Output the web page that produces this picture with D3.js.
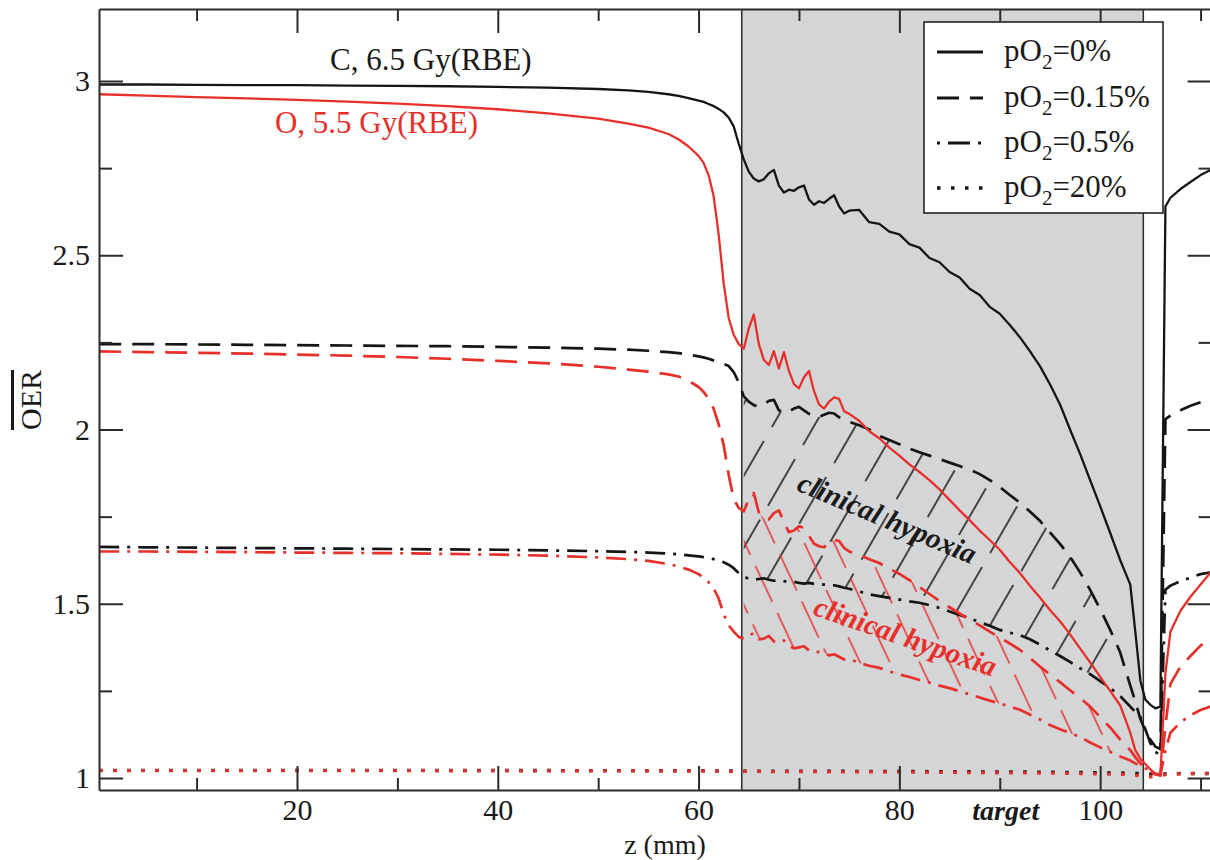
<!DOCTYPE html>
<html><head><meta charset="utf-8">
<script src="https://cdn.jsdelivr.net/npm/d3@7"></script>
<style>
html,body{margin:0;padding:0;background:#fff;}
svg{display:block;font-family:"Liberation Serif","Times New Roman",serif;}
</style></head><body>
<svg id="chart" width="1210" height="860"></svg>
<script>
// ---------------- DATA ----------------
const zGrid = [0.3, 5, 10, 15, 20, 25, 30, 35, 40, 45, 50, 53, 55, 57, 58, 59, 60,
  60.5, 61, 61.5, 62, 62.5, 63, 63.5, 64, 64.5, 65, 65.5, 66, 66.5, 67, 67.5, 68, 68.5, 69, 69.5, 70, 70.5, 71, 71.5, 72, 72.5, 73, 73.5, 74, 74.5, 75,
  76, 77, 78, 79, 80, 81, 82, 83, 84, 85, 86, 87, 88, 89, 90, 91, 92, 93, 94, 95, 96, 97, 98, 99, 100, 101, 102, 103,
  103.5, 104, 104.5, 105, 105.5, 106, 106.5, 107, 108, 109, 110, 111];

// Carbon, 6.5 Gy(RBE)
const oerC0 = [2.990, 2.990, 2.989, 2.988, 2.988, 2.987, 2.986, 2.985, 2.983, 2.981, 2.977, 2.973, 2.969, 2.962, 2.957, 2.951, 2.944,
  2.940, 2.934, 2.928, 2.920, 2.910, 2.895, 2.870, 2.820, 2.775, 2.740, 2.720, 2.712, 2.718, 2.735, 2.745, 2.700, 2.680, 2.688, 2.685, 2.695, 2.700, 2.660, 2.645, 2.655, 2.650, 2.662, 2.672, 2.640, 2.620, 2.628,
  2.630, 2.595, 2.590, 2.568, 2.560, 2.532, 2.522, 2.492, 2.480, 2.452, 2.436, 2.404, 2.386, 2.352, 2.332, 2.300, 2.265, 2.225, 2.182, 2.130, 2.072, 2.000, 1.930, 1.855, 1.780, 1.703, 1.625, 1.555,
  1.420, 1.280, 1.225, 1.210, 1.200, 1.205, 2.640, 2.665, 2.690, 2.710, 2.730, 2.745];
const oerC15 = [2.245, 2.245, 2.244, 2.243, 2.242, 2.241, 2.240, 2.239, 2.237, 2.235, 2.232, 2.229, 2.226, 2.222, 2.219, 2.215, 2.210,
  2.207, 2.203, 2.198, 2.192, 2.188, 2.182, 2.165, 2.135, 2.095, 2.080, 2.070, 2.065, 2.072, 2.082, 2.085, 2.055, 2.048, 2.052, 2.060, 2.065, 2.055, 2.045, 2.040, 2.036, 2.042, 2.048, 2.046, 2.035, 2.028, 2.022,
  2.012, 2.000, 1.982, 1.970, 1.958, 1.945, 1.935, 1.925, 1.915, 1.905, 1.895, 1.885, 1.872, 1.855, 1.835, 1.812, 1.790, 1.765, 1.738, 1.705, 1.672, 1.635, 1.590, 1.540, 1.485, 1.425, 1.360, 1.265,
  1.220, 1.170, 1.135, 1.110, 1.090, 1.083, 2.030, 2.040, 2.055, 2.068, 2.078, 2.085];
const oerC5 = [1.663, 1.662, 1.661, 1.660, 1.659, 1.658, 1.657, 1.656, 1.655, 1.653, 1.651, 1.649, 1.647, 1.644, 1.642, 1.639, 1.636,
  1.634, 1.631, 1.628, 1.624, 1.619, 1.612, 1.602, 1.588, 1.578, 1.572, 1.569, 1.571, 1.573, 1.569, 1.566, 1.568, 1.565, 1.562, 1.563, 1.560, 1.558, 1.560, 1.557, 1.556, 1.555, 1.554, 1.553, 1.550, 1.546, 1.543,
  1.535, 1.527, 1.522, 1.517, 1.512, 1.507, 1.503, 1.496, 1.488, 1.478, 1.468, 1.459, 1.447, 1.437, 1.425, 1.417, 1.410, 1.398, 1.383, 1.366, 1.350, 1.333, 1.315, 1.298, 1.278, 1.258, 1.235, 1.205,
  1.190, 1.175, 1.140, 1.100, 1.075, 1.065, 1.540, 1.552, 1.565, 1.575, 1.585, 1.590];

// Oxygen, 5.5 Gy(RBE)
const oerO0 = [2.962, 2.958, 2.954, 2.950, 2.946, 2.941, 2.935, 2.928, 2.919, 2.907, 2.892, 2.878, 2.866, 2.848, 2.833, 2.812, 2.785,
  2.765, 2.730, 2.670, 2.560, 2.420, 2.320, 2.272, 2.245, 2.232, 2.290, 2.330, 2.245, 2.200, 2.185, 2.225, 2.175, 2.222, 2.168, 2.130, 2.118, 2.150, 2.168, 2.110, 2.072, 2.060, 2.080, 2.092, 2.088, 2.052, 2.045,
  2.025, 1.995, 1.975, 1.948, 1.925, 1.900, 1.878, 1.855, 1.828, 1.798, 1.768, 1.740, 1.710, 1.683, 1.655, 1.620, 1.588, 1.552, 1.518, 1.482, 1.450, 1.412, 1.372, 1.332, 1.290, 1.250, 1.208, 1.130,
  1.080, 1.055, 1.040, 1.025, 1.012, 1.006, 1.300, 1.420, 1.480, 1.520, 1.555, 1.590];
const oerO15 = [2.224, 2.222, 2.220, 2.218, 2.215, 2.212, 2.208, 2.203, 2.197, 2.190, 2.180, 2.172, 2.166, 2.158, 2.152, 2.140, 2.122,
  2.108, 2.088, 2.060, 2.015, 1.955, 1.870, 1.800, 1.775, 1.765, 1.800, 1.818, 1.762, 1.745, 1.742, 1.760, 1.768, 1.735, 1.705, 1.710, 1.722, 1.718, 1.695, 1.672, 1.665, 1.662, 1.675, 1.683, 1.680, 1.660, 1.650,
  1.640, 1.628, 1.617, 1.600, 1.586, 1.568, 1.548, 1.528, 1.508, 1.490, 1.472, 1.455, 1.438, 1.420, 1.403, 1.386, 1.368, 1.345, 1.320, 1.297, 1.275, 1.252, 1.230, 1.205, 1.175, 1.145, 1.110, 1.080,
  1.060, 1.042, 1.030, 1.018, 1.010, 1.008, 1.150, 1.270, 1.320, 1.350, 1.380, 1.400];
const oerO5 = [1.650, 1.650, 1.649, 1.648, 1.647, 1.646, 1.645, 1.643, 1.641, 1.638, 1.633, 1.628, 1.623, 1.614, 1.607, 1.598, 1.585,
  1.575, 1.562, 1.545, 1.515, 1.470, 1.438, 1.420, 1.405, 1.400, 1.410, 1.415, 1.398, 1.400, 1.408, 1.392, 1.388, 1.395, 1.380, 1.372, 1.375, 1.378, 1.366, 1.360, 1.362, 1.358, 1.352, 1.355, 1.348, 1.340, 1.342,
  1.330, 1.322, 1.316, 1.306, 1.297, 1.290, 1.281, 1.274, 1.265, 1.258, 1.249, 1.240, 1.231, 1.222, 1.214, 1.205, 1.196, 1.182, 1.168, 1.152, 1.140, 1.129, 1.118, 1.102, 1.088, 1.075, 1.062, 1.050,
  1.042, 1.035, 1.028, 1.020, 1.013, 1.010, 1.080, 1.130, 1.160, 1.180, 1.195, 1.205];

// pO2 = 20% (dotted)
const zDot   = [0.3, 30, 60, 64, 80, 95, 103, 104.5, 105.5, 106.5, 108, 111];
const oerC20 = [1.022, 1.022, 1.021, 1.020, 1.019, 1.017, 1.014, 1.012, 1.012, 1.012, 1.013, 1.013];
const oerO20 = [1.021, 1.021, 1.020, 1.019, 1.017, 1.014, 1.010, 1.004, 1.003, 1.010, 1.012, 1.013];

const legendLabels = ["0%", "0.15%", "0.5%", "20%"];
const xTicksMajor = [20, 40, 60, 80, 100];
const xTicksMinor = [10, 30, 50, 70, 90, 110];
const yTicksMajor = [1, 1.5, 2, 2.5, 3];
const yTicksMinor = [1.25, 1.75, 2.25, 2.75];
const targetRange = [64.3, 104.3];
const hatchRangeC = [64.5, 101];
const hatchRangeO = [64.5, 103];

// ---------------- CHART ----------------
const BLACK = "#151515", RED = "#e8302b", AXIS = "#2b2b2b";
const FONT = '"Liberation Serif","Times New Roman",serif';
const svg = d3.select("#chart");
const plotL = 99, plotR = 1211.6, plotT = 9, plotB = 790;
const x = d3.scaleLinear().domain([0.28, 111.1]).range([plotL, plotR]);
const y = d3.scaleLinear().domain([0.9656, 3.2066]).range([plotB, plotT]);

const defs = svg.append("defs");
defs.append("clipPath").attr("id", "plotClip").append("rect")
  .attr("x", plotL).attr("y", plotT).attr("width", plotR - plotL).attr("height", plotB - plotT);

function hatchPattern(id, color, spacing, period, dash, angle) {
  const p = defs.append("pattern").attr("id", id).attr("patternUnits", "userSpaceOnUse")
    .attr("width", spacing).attr("height", period).attr("patternTransform", `rotate(${angle})`);
  p.append("line").attr("x1", spacing / 2).attr("x2", spacing / 2).attr("y1", 0).attr("y2", dash)
    .attr("stroke", color).attr("stroke-width", 1.5);
}
hatchPattern("hatchC", BLACK, 36, 70, 54, 30);
hatchPattern("hatchO", RED, 27, 52, 40, -25);

// target shading
svg.append("rect").attr("x", x(targetRange[0])).attr("y", plotT)
  .attr("width", x(targetRange[1]) - x(targetRange[0])).attr("height", plotB - plotT)
  .attr("fill", "#d4d5d7");
targetRange.forEach(t => svg.append("line").attr("x1", x(t)).attr("x2", x(t))
  .attr("y1", plotT).attr("y2", plotB).attr("stroke", AXIS).attr("stroke-width", 1.5));

const plot = svg.append("g").attr("clip-path", "url(#plotClip)");
const idx = d3.range(zGrid.length);

function hatchArea(range, upper, lower, fillId) {
  const ids = idx.filter(i => zGrid[i] >= range[0] && zGrid[i] <= range[1]);
  const area = d3.area().x(i => x(zGrid[i])).y0(i => y(lower[i])).y1(i => y(upper[i]));
  plot.append("path").datum(ids).attr("d", area).attr("fill", `url(#${fillId})`).attr("stroke", "none");
}
hatchArea(hatchRangeC, oerC15, oerC5, "hatchC");
hatchArea(hatchRangeO, oerO15, oerO5, "hatchO");

const styles = [
  { dash: null, w: 2.3 },
  { dash: "22,11", w: 2.7 },
  { dash: "20,8,3,8", w: 2.7 },
  { dash: "3.5,10.5", w: 3.3 }
];

function drawSeries(zs, vals, color, st) {
  const g = d3.line().x((d, i) => x(zs[i])).y(d => y(d));
  plot.append("path").datum(vals).attr("d", g).attr("fill", "none")
    .attr("stroke", color).attr("stroke-width", st.w)
    .attr("stroke-dasharray", st.dash).attr("stroke-linejoin", "round");
}
drawSeries(zDot, oerC20, BLACK, styles[3]);
drawSeries(zGrid, oerC5, BLACK, styles[2]);
drawSeries(zGrid, oerC15, BLACK, styles[1]);
drawSeries(zGrid, oerC0, BLACK, styles[0]);
drawSeries(zDot, oerO20, RED, styles[3]);
drawSeries(zGrid, oerO5, RED, styles[2]);
drawSeries(zGrid, oerO15, RED, styles[1]);
drawSeries(zGrid, oerO0, RED, styles[0]);

// ---------------- AXES ----------------
function styleAxis(g, keepDomain) {
  g.selectAll("line").attr("stroke", AXIS).attr("stroke-width", 2);
  g.select(".domain").attr("stroke", AXIS).attr("stroke-width", 2);
  if (!keepDomain) g.select(".domain").remove();
  g.selectAll("text").attr("font-size", 30).attr("fill", "#1a1a1a").attr("font-family", FONT);
}
const fmt = d => String(d);
svg.append("g").attr("transform", `translate(0,${plotB})`)
  .call(d3.axisBottom(x).tickValues(xTicksMajor).tickSize(-24).tickSizeOuter(0).tickPadding(9).tickFormat(fmt))
  .call(g => styleAxis(g, true));
svg.append("g").attr("transform", `translate(0,${plotB})`)
  .call(d3.axisBottom(x).tickValues(xTicksMinor).tickSize(-12).tickSizeOuter(0).tickFormat(""))
  .call(g => styleAxis(g, false));
svg.append("g").attr("transform", `translate(0,${plotT})`)
  .call(d3.axisTop(x).tickValues(xTicksMajor).tickSize(-24).tickSizeOuter(0).tickFormat(""))
  .call(g => styleAxis(g, true));
svg.append("g").attr("transform", `translate(0,${plotT})`)
  .call(d3.axisTop(x).tickValues(xTicksMinor).tickSize(-12).tickSizeOuter(0).tickFormat(""))
  .call(g => styleAxis(g, false));
svg.append("g").attr("transform", `translate(${plotL},0)`)
  .call(d3.axisLeft(y).tickValues(yTicksMajor).tickSize(-24).tickSizeOuter(0).tickPadding(9).tickFormat(fmt))
  .call(g => styleAxis(g, true));
svg.append("g").attr("transform", `translate(${plotL},0)`)
  .call(d3.axisLeft(y).tickValues(yTicksMinor).tickSize(-13).tickSizeOuter(0).tickFormat(""))
  .call(g => styleAxis(g, false));
svg.append("g").attr("transform", `translate(${plotR},0)`)
  .call(d3.axisRight(y).tickValues(yTicksMajor).tickSize(-24).tickSizeOuter(0).tickFormat(""))
  .call(g => styleAxis(g, true));
svg.append("g").attr("transform", `translate(${plotR},0)`)
  .call(d3.axisRight(y).tickValues(yTicksMinor).tickSize(-13).tickSizeOuter(0).tickFormat(""))
  .call(g => styleAxis(g, false));

// axis titles
svg.append("text").attr("x", 665).attr("y", 854).attr("text-anchor", "middle")
  .attr("font-size", 28).attr("fill", "#1a1a1a").text("z (mm)");
svg.append("text").attr("transform", "translate(41,400) rotate(-90)").attr("text-anchor", "middle")
  .attr("font-size", 30).attr("fill", "#1a1a1a").attr("text-decoration", "overline").text("OER");

// ---------------- ANNOTATIONS ----------------
svg.append("text").attr("x", x(23.3)).attr("y", y(3.032)).attr("font-size", 31).attr("fill", "#1a1a1a")
  .text("C, 6.5 Gy(RBE)");
svg.append("text").attr("x", x(17.8)).attr("y", y(2.851)).attr("font-size", 31).attr("fill", RED)
  .text("O, 5.5 Gy(RBE)");
svg.append("text").attr("transform", `translate(${x(78.8)},${y(1.746)}) rotate(23)`)
  .attr("text-anchor", "middle").attr("dominant-baseline", "central")
  .attr("font-size", 29).attr("font-weight", "bold").attr("font-style", "italic").attr("fill", "#1a1a1a")
  .text("clinical hypoxia");
svg.append("text").attr("transform", `translate(${x(80.6)},${y(1.407)}) rotate(19)`)
  .attr("text-anchor", "middle").attr("dominant-baseline", "central")
  .attr("font-size", 29).attr("font-weight", "bold").attr("font-style", "italic").attr("fill", RED)
  .text("clinical hypoxia");
svg.append("text").attr("x", x(90.6)).attr("y", plotB + 30).attr("text-anchor", "middle")
  .attr("font-size", 28).attr("font-weight", "bold").attr("font-style", "italic").attr("fill", "#1a1a1a")
  .text("target");

// ---------------- LEGEND ----------------
const lg = svg.append("g");
lg.append("rect").attr("x", 924).attr("y", 22).attr("width", 239).attr("height", 191)
  .attr("fill", "#fff").attr("stroke", "#222").attr("stroke-width", 1.6);
const rowY = [52, 98, 143, 188];
legendLabels.forEach((lab, k) => {
  const st = styles[k];
  lg.append("line").attr("x1", 937).attr("x2", 983).attr("y1", rowY[k]).attr("y2", rowY[k])
    .attr("stroke", BLACK).attr("stroke-width", k === 3 ? 3.3 : 2.9)
    .attr("stroke-dasharray", k === 2 ? "3,8,22,8" : st.dash);
  const t = lg.append("text").attr("x", 1004).attr("y", rowY[k] + 9).attr("font-size", 31).attr("fill", "#1a1a1a");
  t.append("tspan").text("pO");
  t.append("tspan").attr("font-size", 21).attr("dy", 8).text("2");
  t.append("tspan").attr("dy", -8).text("=" + lab);
});
</script>
</body></html>
